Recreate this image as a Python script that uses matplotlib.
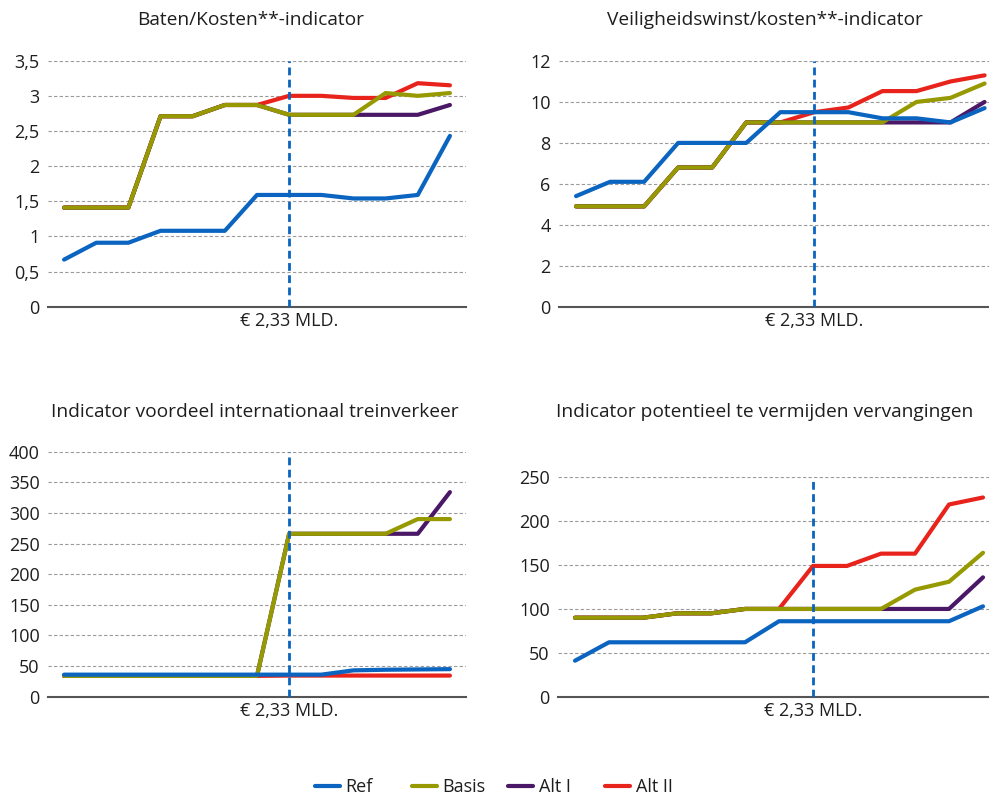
import matplotlib
matplotlib.use("Agg")
import matplotlib.pyplot as plt
from matplotlib.ticker import FuncFormatter
from matplotlib.lines import Line2D

plt.rcParams['font.family'] = ['Open Sans', 'DejaVu Sans']

# --- data -----------------------------------------------------------------
series_names = ["Ref", "Basis", "Alt I", "Alt II"]
series_colors = ["#0a64c0", "#969a00", "#4a1866", "#e8231c"]
steps = list(range(13))
budget_pos = 7
budget_label = "€ 2,33 MLD."

titles = ["Baten/Kosten**-indicator",
          "Veiligheidswinst/kosten**-indicator",
          "Indicator voordeel internationaal treinverkeer",
          "Indicator potentieel te vermijden vervangingen"]

baten_ref = [0.67, 0.91, 0.91, 1.08, 1.08, 1.08, 1.59, 1.59, 1.59, 1.54, 1.54, 1.59, 2.43]
baten_basis = [1.41, 1.41, 1.41, 2.71, 2.71, 2.87, 2.87, 2.73, 2.73, 2.73, 3.04, 3.0, 3.04]
baten_alt1 = [1.41, 1.41, 1.41, 2.71, 2.71, 2.87, 2.87, 2.73, 2.73, 2.73, 2.73, 2.73, 2.87]
baten_alt2 = [1.41, 1.41, 1.41, 2.71, 2.71, 2.87, 2.87, 3.0, 3.0, 2.97, 2.97, 3.18, 3.15]

veilig_ref = [5.4, 6.1, 6.1, 8.0, 8.0, 8.0, 9.5, 9.5, 9.5, 9.2, 9.2, 9.0, 9.7]
veilig_basis = [4.9, 4.9, 4.9, 6.8, 6.8, 9.0, 9.0, 9.0, 9.0, 9.0, 10.0, 10.2, 10.9]
veilig_alt1 = [4.9, 4.9, 4.9, 6.8, 6.8, 9.0, 9.0, 9.0, 9.0, 9.0, 9.0, 9.0, 10.0]
veilig_alt2 = [4.9, 4.9, 4.9, 6.8, 6.8, 9.0, 9.0, 9.5, 9.73, 10.53, 10.53, 11.0, 11.3]

intl_ref = [36, 36, 36, 36, 36, 36, 36, 36, 36, 43, 44, 44.5, 45]
intl_basis = [34, 34, 34, 34, 34, 34, 34, 266, 266, 266, 266, 290, 290]
intl_alt1 = [34, 34, 34, 34, 34, 34, 34, 266, 266, 266, 266, 266, 334]
intl_alt2 = [34, 34, 34, 34, 34, 34, 34, 34.5, 34.5, 34.5, 34.5, 34.5, 34.5]

verv_ref = [41, 62, 62, 62, 62, 62, 86, 86, 86, 86, 86, 86, 103]
verv_basis = [90, 90, 90, 95, 95, 100, 100, 100, 100, 100, 122, 131, 164]
verv_alt1 = [90, 90, 90, 95, 95, 100, 100, 100, 100, 100, 100, 100, 136]
verv_alt2 = [90, 90, 90, 95, 95, 100, 100, 149, 149, 163, 163, 219, 227]

panels = [
    (titles[0], [baten_ref, baten_basis, baten_alt1, baten_alt2], 3.5, 0.5),
    (titles[1], [veilig_ref, veilig_basis, veilig_alt1, veilig_alt2], 12, 2),
    (titles[2], [intl_ref, intl_basis, intl_alt1, intl_alt2], 400, 50),
    (titles[3], [verv_ref, verv_basis, verv_alt1, verv_alt2], 250, 50),
]

# --- layout (pixels) ------------------------------------------------------
W, H = 989, 796
# left, right, top, bottom, title x, title y
boxes = [
    (48, 466, 60.7, 306.7, 251, 20),
    (559, 1001.6, 61, 306.7, 765, 20),
    (48, 466, 451.7, 696.7, 255, 412),
    (558, 1000, 477.3, 696.7, 765, 412),
]

fig = plt.figure(figsize=(W / 100, H / 100), dpi=100)
text_color = "#1e1e1e"


def fmt(v, _):
    s = f"{v:g}"
    return s.replace(".", ",")


for (title, values, ymax, ystep), (l, r, t, b, tx, ty) in zip(panels, boxes):
    ax = fig.add_axes([l / W, 1 - b / H, (r - l) / W, (b - t) / H])
    # draw Alt II, Alt I, Basis, then Ref on top
    for i in [3, 2, 1, 0]:
        ax.plot(steps, values[i], color=series_colors[i], lw=3,
                solid_capstyle="round", solid_joinstyle="round", zorder=3 + (3 - i))
    ax.axvline(budget_pos, color="#0a64c0", lw=2, dashes=(2.8, 1.6), zorder=8)
    ax.set_xlim(-0.5, 12.5)
    ax.set_ylim(0, ymax)
    n = int(round(ymax / ystep))
    ax.set_yticks([k * ystep for k in range(n + 1)])
    ax.yaxis.set_major_formatter(FuncFormatter(fmt))
    ax.set_xticks([budget_pos])
    ax.set_xticklabels([budget_label])
    ax.tick_params(axis="both", length=0, labelsize=13, colors=text_color)
    ax.tick_params(axis="y", pad=6)
    ax.tick_params(axis="x", pad=4)
    ax.yaxis.grid(True, linestyle=(0, (3, 2)), color="#9a9a9a", lw=0.8)
    ax.set_axisbelow(True)
    for side in ["left", "right", "top"]:
        ax.spines[side].set_visible(False)
    ax.spines["bottom"].set_color("#555555")
    ax.spines["bottom"].set_linewidth(1.5)
    fig.text(tx / W, 1 - ty / H, title, ha="center", va="center",
             fontsize=13.8, color=text_color)

# legend with fixed pitch between entries
legend_x = [315, 412, 508, 605]
for name, color, x in zip(series_names, series_colors, legend_x):
    h = Line2D([], [], color=color, lw=3, solid_capstyle="round")
    fig.legend([h], [name], loc="center left",
               bbox_to_anchor=(x / W, 1 - 787 / H), frameon=False,
               borderpad=0, borderaxespad=0, handlelength=1.4,
               handletextpad=0.3, fontsize=13, labelcolor=text_color)

fig.savefig("out.png", dpi=100)
